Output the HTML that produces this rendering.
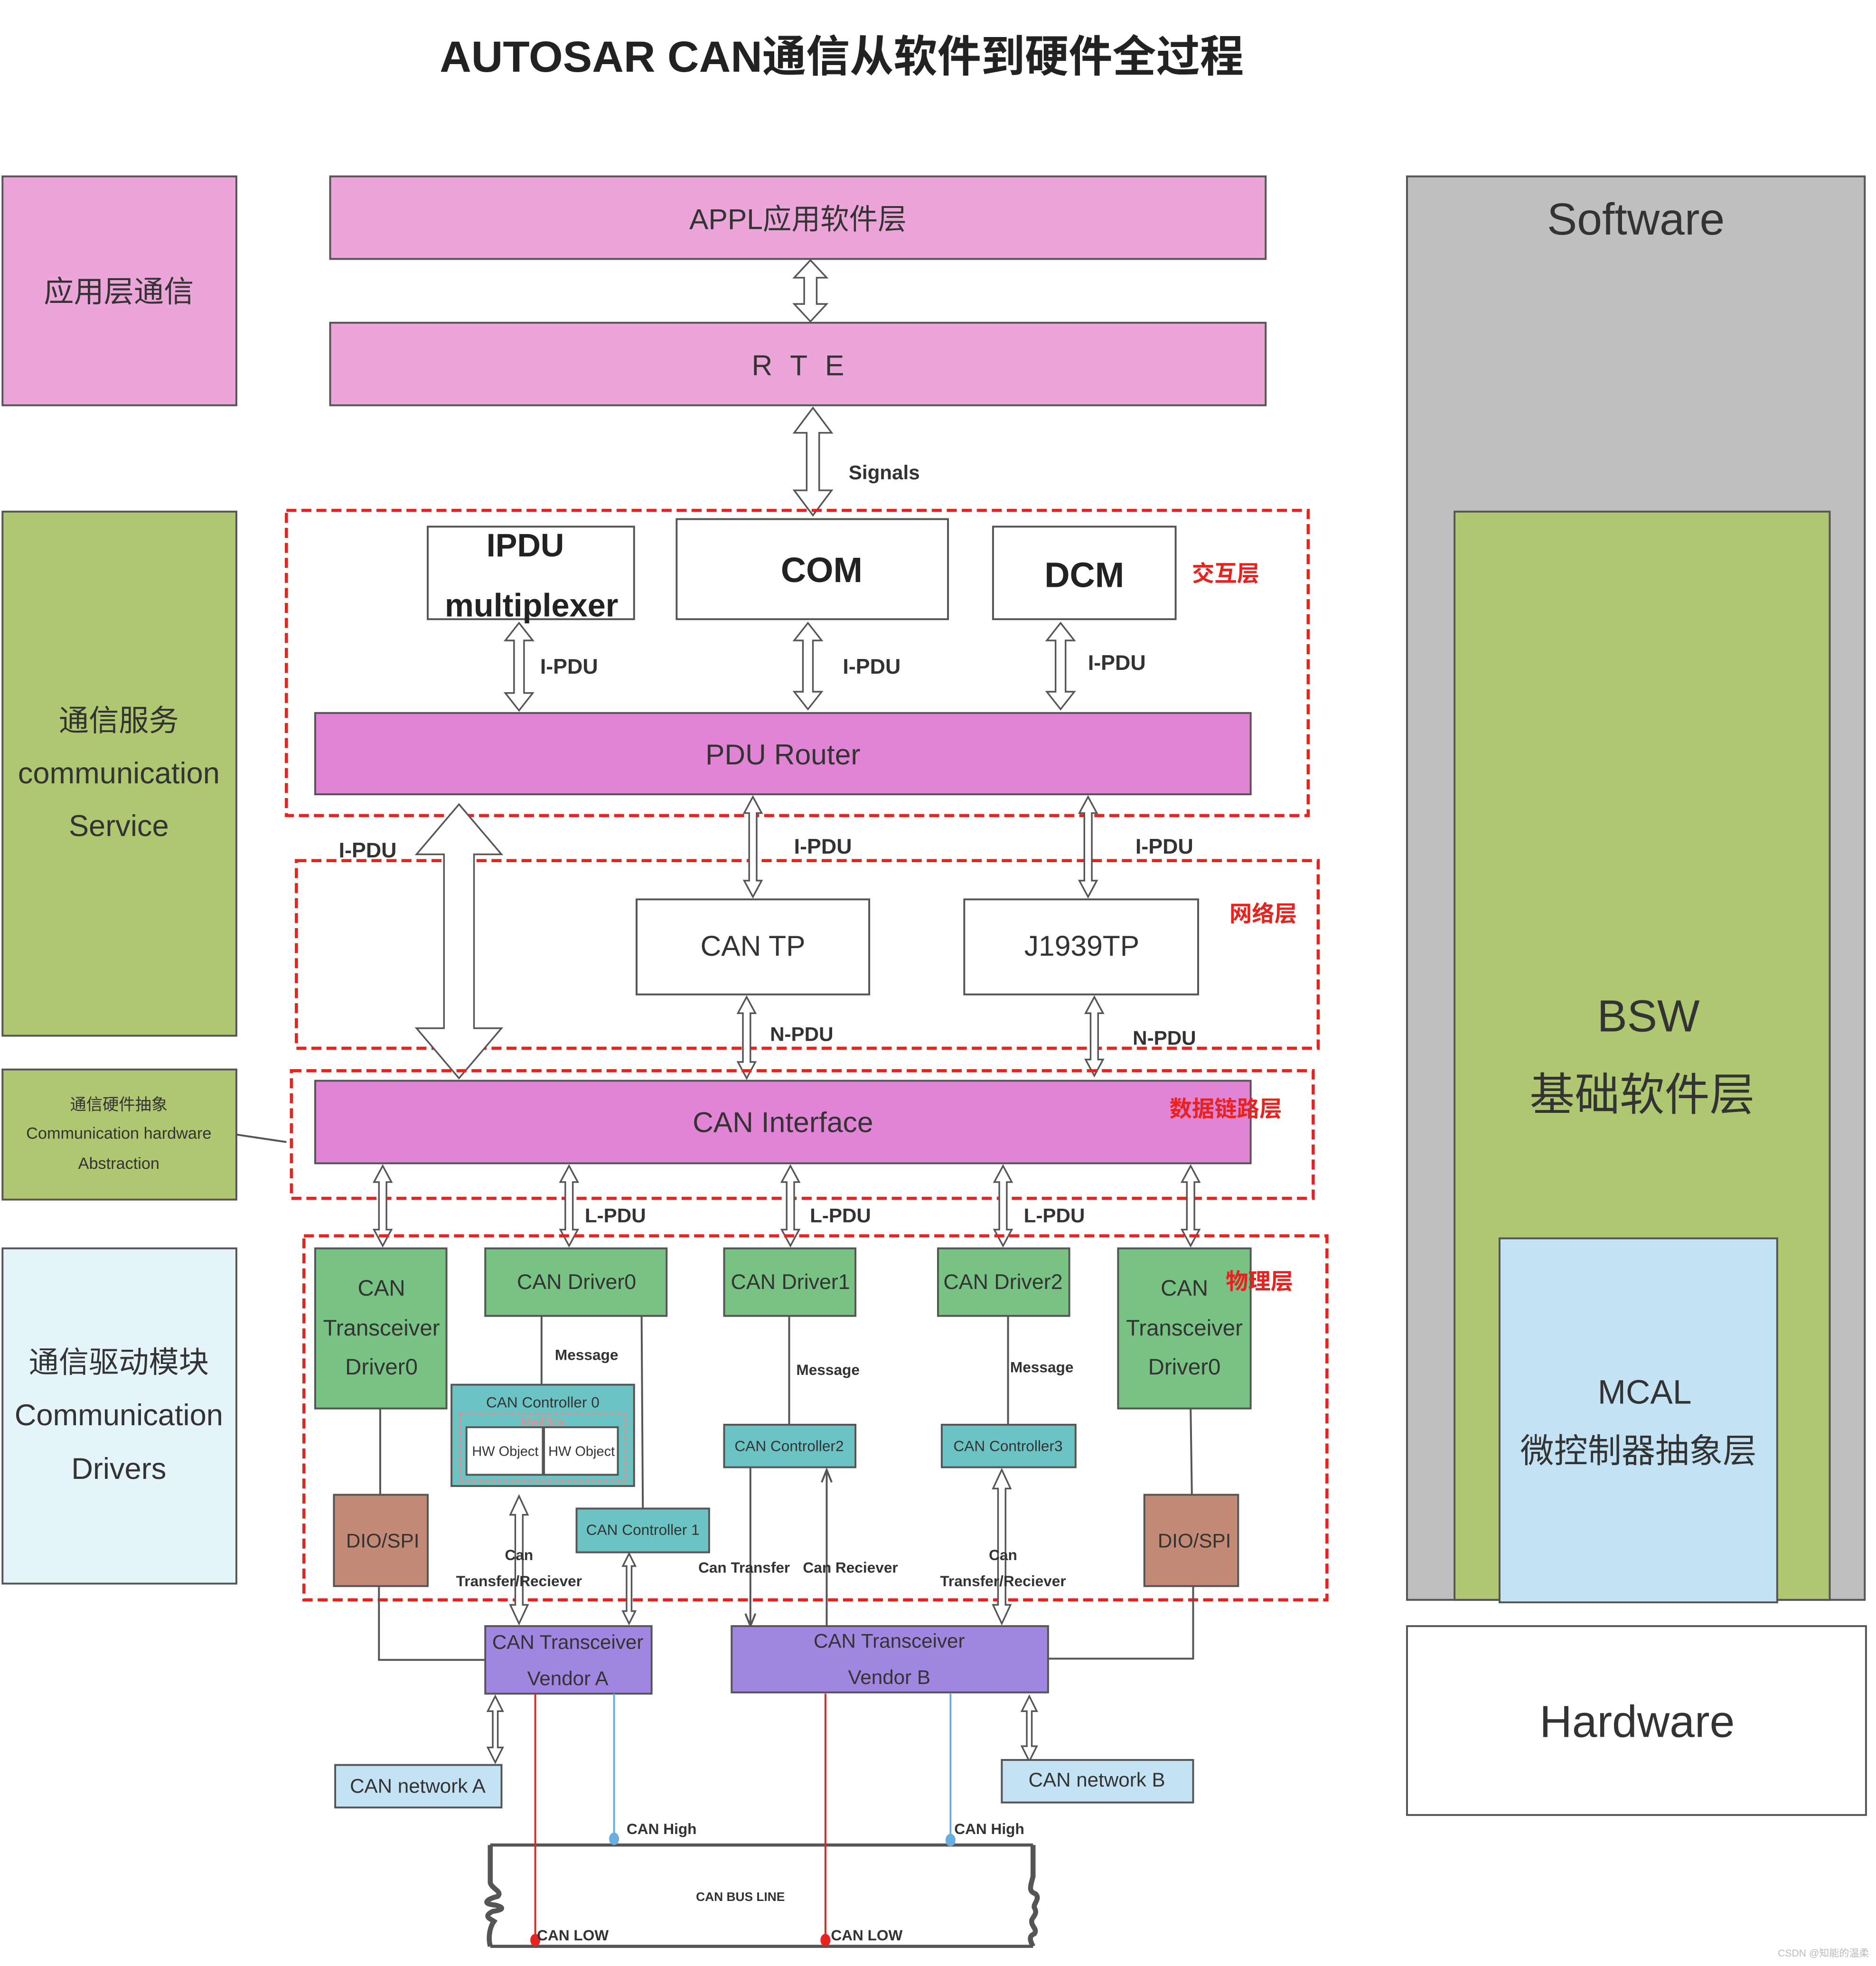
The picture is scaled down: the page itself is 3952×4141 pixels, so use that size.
<!DOCTYPE html>
<html><head><meta charset="utf-8"><style>
html,body{margin:0;padding:0;background:#fff;}
svg{display:block;}
text{font-family:"Liberation Sans","Noto Sans CJK SC",sans-serif;fill:#333;text-anchor:middle;dominant-baseline:middle;}
.b{font-weight:bold;}
.r{fill:#E8221E;font-weight:bold;font-size:18px;}
.ar{fill:#fff;stroke:#555;stroke-width:1.3;}
.ln{stroke:#555;stroke-width:1.5;fill:none;}
.dash{fill:none;stroke:#E8221E;stroke-width:2.5;stroke-dasharray:8,4;}
.bx{stroke:#555;stroke-width:1.5;}
</style></head><body>
<svg width="3952" height="4141" viewBox="0 0 1500 1571.7" xmlns="http://www.w3.org/2000/svg">
<rect width="1500" height="1572" fill="#fff"/>
<text x="673" y="48" class="b" style="font-size:35px;fill:#222">AUTOSAR CAN通信从软件到硬件全过程</text>

<rect x="2" y="141" width="187" height="183" fill="#ECA5D9" class="bx"/>
<text x="95" y="235" style="font-size:24px">应用层通信</text>
<rect x="2" y="409" width="187" height="419" fill="#B0C771" class="bx"/>
<text x="95" y="578" style="font-size:24px">通信服务</text>
<text x="95" y="620" style="font-size:24px">communication</text>
<text x="95" y="662" style="font-size:24px">Service</text>
<rect x="2" y="855" width="187" height="104" fill="#B0C771" class="bx"/>
<text x="95" y="884" style="font-size:13px">通信硬件抽象</text>
<text x="95" y="907" style="font-size:13px">Communication hardware</text>
<text x="95" y="931" style="font-size:13px">Abstraction</text>
<line x1="189" y1="907" x2="229" y2="913" class="ln"/>
<rect x="2" y="998" width="187" height="268" fill="#E5F4FB" class="bx"/>
<text x="95" y="1091" style="font-size:24px">通信驱动模块</text>
<text x="95" y="1133" style="font-size:24px">Communication</text>
<text x="95" y="1176" style="font-size:24px">Drivers</text>

<rect x="1125" y="141" width="366" height="1138" fill="#BFBFBF" class="bx"/>
<text x="1308" y="178" style="font-size:36px">Software</text>
<rect x="1163" y="409" width="300" height="870" fill="#B0C771" class="bx"/>
<text x="1318" y="815" style="font-size:36px">BSW</text>
<text x="1313" y="878" style="font-size:36px">基础软件层</text>
<rect x="1199" y="990" width="222" height="291" fill="#C3E2F4" class="bx"/>
<text x="1315" y="1115" style="font-size:27px">MCAL</text>
<text x="1310" y="1162" style="font-size:27px">微控制器抽象层</text>
<rect x="1125" y="1300" width="367" height="151" fill="#fff" class="bx"/>
<text x="1309" y="1379" style="font-size:36px">Hardware</text>

<rect x="264" y="141" width="748" height="66" fill="#ECA5D9" class="bx"/>
<text x="638" y="177" style="font-size:23px">APPL应用软件层</text>
<rect x="264" y="258" width="748" height="66" fill="#ECA5D9" class="bx"/>
<text x="640" y="294" style="font-size:23px;letter-spacing:4px">R T E</text>
<path class="ar" d="M648 208 L661 222 H653 V243 H661 L648 257 L635 243 H643 V222 H635 Z"/>
<path class="ar" d="M650 326 L665 346 H655 V392 H665 L650 412 L635 392 H645 V346 H635 Z"/>
<text x="707" y="379" class="b" style="font-size:16px">Signals</text>

<rect x="229" y="408" width="817" height="244" class="dash"/>
<rect x="342" y="421" width="165" height="74" fill="#fff" class="bx"/>
<text x="420" y="438" class="b" style="font-size:26px;fill:#222">IPDU</text>
<text x="425" y="486" class="b" style="font-size:26px;fill:#222">multiplexer</text>
<rect x="541" y="415" width="217" height="80" fill="#fff" class="bx"/>
<text x="657" y="458" class="b" style="font-size:28px;fill:#222">COM</text>
<rect x="794" y="421" width="146" height="74" fill="#fff" class="bx"/>
<text x="867" y="462" class="b" style="font-size:28px;fill:#222">DCM</text>
<text x="980" y="460" class="r">交互层</text>
<path class="ar" d="M415 498 L426 512 H419 V554 H426 L415 568 L404 554 H411 V512 H404 Z"/>
<path class="ar" d="M646 498 L657 512 H650 V553 H657 L646 567 L635 553 H642 V512 H635 Z"/>
<path class="ar" d="M848 498 L859 512 H852 V553 H859 L848 567 L837 553 H844 V512 H837 Z"/>
<text x="455" y="534" class="b" style="font-size:17px">I-PDU</text>
<text x="697" y="534" class="b" style="font-size:17px">I-PDU</text>
<text x="893" y="531" class="b" style="font-size:17px">I-PDU</text>
<rect x="252" y="570" width="748" height="65" fill="#E284D6" class="bx"/>
<text x="626" y="605" style="font-size:23px">PDU Router</text>

<rect x="237" y="688" width="817" height="150" class="dash"/>
<path class="ar" d="M367 643 L401 683 H379 V822 H401 L367 862 L333 822 H355 V683 H333 Z"/>
<text x="294" y="681" class="b" style="font-size:17px">I-PDU</text>
<path class="ar" d="M602 637 L609 650 H605 V704 H609 L602 717 L595 704 H599 V650 H595 Z"/>
<path class="ar" d="M870 637 L877 650 H873 V704 H877 L870 717 L863 704 H867 V650 H863 Z"/>
<text x="658" y="678" class="b" style="font-size:17px">I-PDU</text>
<text x="931" y="678" class="b" style="font-size:17px">I-PDU</text>
<rect x="509" y="719" width="186" height="76" fill="#fff" class="bx"/>
<text x="602" y="758" style="font-size:23px">CAN TP</text>
<rect x="771" y="719" width="187" height="76" fill="#fff" class="bx"/>
<text x="865" y="758" style="font-size:23px">J1939TP</text>
<text x="1010" y="732" class="r">网络层</text>
<path class="ar" d="M597 797 L604 810 H600 V849 H604 L597 862 L590 849 H594 V810 H590 Z"/>
<path class="ar" d="M875 797 L882 810 H878 V847 H882 L875 860 L868 847 H872 V810 H868 Z"/>
<text x="641" y="828" class="b" style="font-size:16px">N-PDU</text>
<text x="931" y="831" class="b" style="font-size:16px">N-PDU</text>

<rect x="233" y="856" width="817" height="102" class="dash"/>
<rect x="252" y="864" width="748" height="66" fill="#E284D6" class="bx"/>
<text x="626" y="899" style="font-size:23px">CAN  Interface</text>
<text x="980" y="888" class="r">数据链路层</text>
<path class="ar" d="M306 932 L313 945 H309 V983 H313 L306 996 L299 983 H303 V945 H299 Z"/>
<path class="ar" d="M455 932 L462 945 H458 V983 H462 L455 996 L448 983 H452 V945 H448 Z"/>
<path class="ar" d="M632 932 L639 945 H635 V983 H639 L632 996 L625 983 H629 V945 H625 Z"/>
<path class="ar" d="M802 932 L809 945 H805 V983 H809 L802 996 L795 983 H799 V945 H795 Z"/>
<path class="ar" d="M952 932 L959 945 H955 V983 H959 L952 996 L945 983 H949 V945 H945 Z"/>
<text x="492" y="973" class="b" style="font-size:16px">L-PDU</text>
<text x="672" y="973" class="b" style="font-size:16px">L-PDU</text>
<text x="843" y="973" class="b" style="font-size:16px">L-PDU</text>

<rect x="243" y="988" width="818" height="291" class="dash"/>
<line x1="304" y1="1126" x2="304" y2="1195" class="ln"/>
<line x1="433" y1="1052" x2="433" y2="1107" class="ln"/>
<line x1="513" y1="1052" x2="514" y2="1206" class="ln"/>
<line x1="631" y1="1052" x2="631" y2="1139" class="ln"/>
<line x1="806" y1="1052" x2="806" y2="1139" class="ln"/>
<line x1="952" y1="1126" x2="953" y2="1195" class="ln"/>
<text x="469" y="1084" class="b" style="font-size:12px">Message</text>
<text x="662" y="1096" class="b" style="font-size:12px">Message</text>
<text x="833" y="1094" class="b" style="font-size:12px">Message</text>

<rect x="252" y="998" width="105" height="128" fill="#78C283" class="bx"/>
<text x="305" y="1031" style="font-size:18px">CAN</text>
<text x="305" y="1063" style="font-size:18px">Transceiver</text>
<text x="305" y="1094" style="font-size:18px">Driver0</text>
<rect x="388" y="998" width="145" height="54" fill="#78C283" class="bx"/>
<text x="461" y="1026" style="font-size:17px">CAN Driver0</text>
<rect x="579" y="998" width="105" height="54" fill="#78C283" class="bx"/>
<text x="632" y="1026" style="font-size:17px">CAN Driver1</text>
<rect x="750" y="998" width="105" height="54" fill="#78C283" class="bx"/>
<text x="802" y="1026" style="font-size:17px">CAN Driver2</text>
<rect x="894" y="998" width="106" height="128" fill="#78C283" class="bx"/>
<text x="947" y="1031" style="font-size:18px">CAN</text>
<text x="947" y="1063" style="font-size:18px">Transceiver</text>
<text x="947" y="1094" style="font-size:18px">Driver0</text>
<text x="1007" y="1026" class="r">物理层</text>

<rect x="361" y="1107" width="146" height="81" fill="#6CC3C4" class="bx"/>
<text x="434" y="1122" style="font-size:12px">CAN Controller 0</text>
<rect x="368" y="1130" width="132" height="54" fill="none" stroke="#E88" stroke-width="1.2" stroke-dasharray="3,2"/>
<text x="434" y="1137" style="font-size:10px;fill:#E88">MailBox</text>
<rect x="373" y="1141" width="61" height="38" fill="#fff" class="bx"/>
<rect x="435" y="1141" width="59" height="38" fill="#fff" class="bx"/>
<text x="404" y="1161" style="font-size:11px">HW Object</text>
<text x="465" y="1161" style="font-size:11px">HW Object</text>
<rect x="579" y="1139" width="105" height="34" fill="#6CC3C4" class="bx"/>
<text x="631" y="1157" style="font-size:12px">CAN Controller2</text>
<rect x="753" y="1139" width="107" height="34" fill="#6CC3C4" class="bx"/>
<text x="806" y="1157" style="font-size:12px">CAN Controller3</text>
<rect x="461" y="1206" width="106" height="35" fill="#6CC3C4" class="bx"/>
<text x="514" y="1224" style="font-size:12px">CAN Controller 1</text>

<rect x="267" y="1195" width="75" height="73" fill="#C38A76" class="bx"/>
<text x="306" y="1233" style="font-size:16px">DIO/SPI</text>
<rect x="915" y="1195" width="75" height="73" fill="#C38A76" class="bx"/>
<text x="955" y="1233" style="font-size:16px">DIO/SPI</text>

<path class="ar" d="M415 1196 L422 1211 H418 V1283 H422 L415 1298 L408 1283 H412 V1211 H408 Z"/>
<path class="ar" d="M503 1242 L508 1252 H505 V1288 H508 L503 1298 L498 1288 H501 V1252 H498 Z"/>
<path class="ar" d="M801 1175 L808 1190 H804 V1283 H808 L801 1298 L794 1283 H798 V1190 H794 Z"/>
<line x1="600" y1="1173" x2="600" y2="1300" class="ln"/>
<path d="M596 1290 L600 1300 L604 1290" class="ln"/>
<line x1="661" y1="1175" x2="661" y2="1300" class="ln"/>
<path d="M657 1185 L661 1175 L665 1185" class="ln"/>
<text x="415" y="1244" class="b" style="font-size:12px">Can</text>
<text x="415" y="1265" class="b" style="font-size:12px">Transfer/Reciever</text>
<text x="595" y="1254" class="b" style="font-size:12px">Can Transfer</text>
<text x="680" y="1254" class="b" style="font-size:12px">Can Reciever</text>
<text x="802" y="1244" class="b" style="font-size:12px">Can</text>
<text x="802" y="1265" class="b" style="font-size:12px">Transfer/Reciever</text>

<path d="M303 1268 V1327 H388" class="ln"/>
<path d="M954 1268 V1326 H838" class="ln"/>
<rect x="388" y="1300" width="133" height="54" fill="#A086E0" class="bx"/>
<text x="454" y="1314" style="font-size:16px">CAN Transceiver</text>
<text x="454" y="1343" style="font-size:16px">Vendor A</text>
<rect x="585" y="1300" width="253" height="53" fill="#A086E0" class="bx"/>
<text x="711" y="1313" style="font-size:16px">CAN Transceiver</text>
<text x="711" y="1342" style="font-size:16px">Vendor B</text>

<path class="ar" d="M396 1356 L402 1368 H398 V1397 H402 L396 1409 L390 1397 H394 V1368 H390 Z"/>
<path class="ar" d="M823 1356 L829 1368 H825 V1396 H829 L823 1408 L817 1396 H821 V1368 H817 Z"/>
<rect x="268" y="1411" width="133" height="34" fill="#C3E2F4" class="bx"/>
<text x="334" y="1429" style="font-size:16px">CAN network A</text>
<rect x="801" y="1407" width="153" height="34" fill="#C3E2F4" class="bx"/>
<text x="877" y="1424" style="font-size:16px">CAN network B</text>

<line x1="392" y1="1475" x2="826" y2="1475" stroke="#555" stroke-width="2.5"/>
<line x1="392" y1="1556" x2="826" y2="1556" stroke="#555" stroke-width="2.5"/>
<path d="M392 1475 V1505 C393 1510 402 1512 398 1516 C390 1518 384 1522 396 1523 C404 1525 402 1527 394 1528 C386 1532 392 1534 395 1536 C392 1540 390 1548 392 1556" fill="none" stroke="#555" stroke-width="4"/>
<path d="M826 1475 V1500 C824 1508 822 1512 828 1514 C832 1518 826 1522 827 1525 C830 1530 826 1532 825 1535 C824 1540 830 1542 827 1546 C822 1548 824 1552 826 1556" fill="none" stroke="#555" stroke-width="4"/>
<line x1="428" y1="1354" x2="428" y2="1551" stroke="#E8221E" stroke-width="1.5"/>
<line x1="660" y1="1354" x2="660" y2="1551" stroke="#E8221E" stroke-width="1.5"/>
<line x1="491" y1="1354" x2="491" y2="1470" stroke="#6AAEE0" stroke-width="1.5"/>
<line x1="760" y1="1354" x2="760" y2="1472" stroke="#6AAEE0" stroke-width="1.5"/>
<ellipse cx="491" cy="1470" rx="4" ry="5" fill="#6AAEE0"/>
<ellipse cx="760" cy="1471" rx="4" ry="5" fill="#6AAEE0"/>
<ellipse cx="428" cy="1551" rx="4" ry="5" fill="#E8221E"/>
<ellipse cx="660" cy="1551" rx="4" ry="5" fill="#E8221E"/>
<text x="529" y="1463" class="b" style="font-size:12px">CAN High</text>
<text x="791" y="1463" class="b" style="font-size:12px">CAN High</text>
<text x="592" y="1517" class="b" style="font-size:10px">CAN BUS LINE</text>
<text x="458" y="1548" class="b" style="font-size:12px">CAN LOW</text>
<text x="693" y="1548" class="b" style="font-size:12px">CAN LOW</text>
<text x="1458" y="1562" style="font-size:8px;fill:#bbb">CSDN @知能的温柔</text>
</svg>
</body></html>
